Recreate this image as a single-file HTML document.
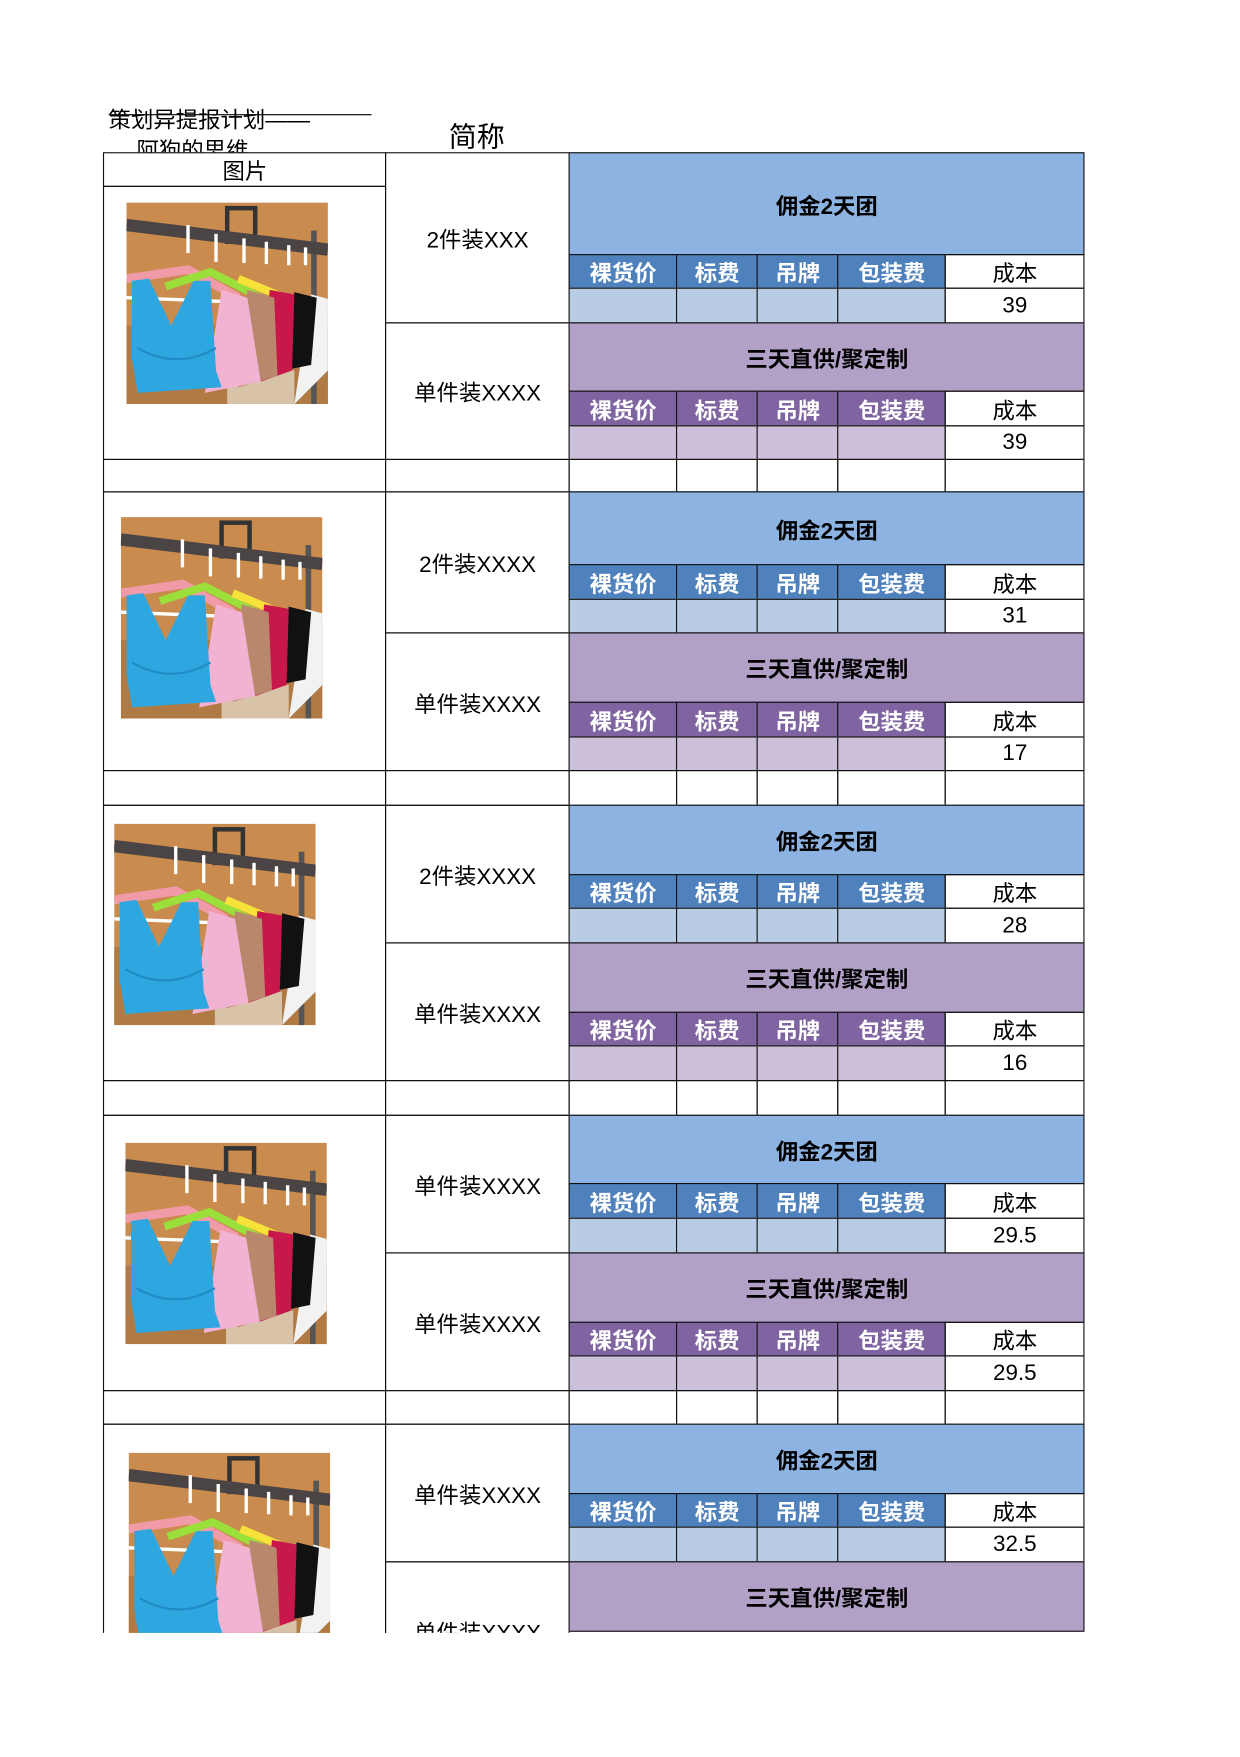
<!DOCTYPE html>
<html><head><meta charset="utf-8"><style>
html,body{margin:0;padding:0;background:#fff;}
body{width:1240px;height:1754px;overflow:hidden;position:relative;font-family:"Liberation Sans","Noto Sans CJK SC",sans-serif;}
#w{position:absolute;left:0;top:0;width:1100px;height:1570px;transform:scale(1.1192);transform-origin:0 0;}
#clip{position:absolute;left:0;top:0;width:1100px;height:1459px;overflow:hidden;}
.c{position:absolute;box-sizing:border-box;border:1.5px solid #111;display:flex;align-items:center;justify-content:center;font-size:20px;color:#000;margin:-0.75px 0 0 -0.75px;white-space:nowrap;}
.B{background:#8DB3E2;font-weight:bold;}
.Bs{background:#4F81BD;color:#fff;font-weight:bold;}
.Bv{background:#B8CCE4;}
.P{background:#B2A1C7;font-weight:bold;}
.Ps{background:#8064A2;color:#fff;font-weight:bold;}
.Pv{background:#CCC0DA;}
.im{position:absolute;width:180px;height:180px;}
.t{position:absolute;font-size:21px;white-space:nowrap;}
</style></head><body>
<svg width="0" height="0" style="position:absolute">
<defs>
<symbol id="ph" viewBox="0 0 180 180">
<rect width="180" height="180" fill="#c98b4e"/>
<rect x="0" y="110" width="180" height="70" fill="#b07a45"/>
<rect x="90" y="150" width="60" height="30" fill="#d8c3a8"/>
<rect x="165" y="25" width="5" height="155" fill="#555"/>
<rect x="90" y="5" width="25" height="30" fill="none" stroke="#333" stroke-width="4"/>
<line x1="0" y1="20" x2="180" y2="42" stroke="#4a4444" stroke-width="11"/>
<g stroke="#fff" stroke-width="3" fill="none">
<path d="M55 20 v25 M80 28 v25 M105 32 v22 M125 35 v20 M145 38 v18 M160 40 v16"/>
<line x1="0" y1="85" x2="180" y2="92"/>
</g>
<path d="M0 68 L55 60 L100 85" stroke="#f19aa8" stroke-width="8" fill="none"/>
<path d="M35 75 L75 62 L130 90" stroke="#9be03a" stroke-width="7" fill="none"/>
<path d="M100 68 L165 95" stroke="#f7e23a" stroke-width="7" fill="none"/>
<path d="M150 180 L165 82 L180 86 L180 150 Z" fill="#f2f2f2"/>
<path d="M140 150 L150 80 L170 85 L165 145 Z" fill="#111"/>
<path d="M120 160 L128 78 L150 82 L148 150 Z" fill="#c8174a"/>
<path d="M100 165 L108 78 L132 85 L135 155 Z" fill="#b9876c"/>
<path d="M70 170 L85 78 L108 85 L120 160 Z" fill="#f2b3d3"/>
<path d="M5 70 L20 68 L40 110 L60 70 L75 70 L80 150 L85 165 L10 170 L5 140 Z" fill="#2ea7e0"/>
<path d="M10 130 Q45 150 80 130" stroke="#1f8cc4" stroke-width="2" fill="none"/>
</symbol>
</defs></svg>
<div id="w">
<div class="t" style="left:97px;top:91px;font-size:20px;">策划异提报计划——</div>
<div style="position:absolute;left:97px;top:102px;width:235px;border-top:1.5px solid #000;"></div>
<div class="t" style="left:122px;top:118px;font-size:20px;height:18px;overflow:hidden;">阿狗的思维</div>
<div class="t" style="left:401px;top:103px;font-size:25px;">简称</div>
<div id="clip">
<div class="c" style="left:93px;top:137px;width:253px;height:31px;">图片</div>
<div class="c" style="left:93px;top:167px;width:253px;height:245px;"></div>
<div class="c" style="left:93px;top:411px;width:253px;height:30px;"></div>
<div class="c" style="left:93px;top:440px;width:253px;height:250px;"></div>
<div class="c" style="left:93px;top:689px;width:253px;height:32px;"></div>
<div class="c" style="left:93px;top:720px;width:253px;height:247px;"></div>
<div class="c" style="left:93px;top:966px;width:253px;height:32px;"></div>
<div class="c" style="left:93px;top:997px;width:253px;height:247px;"></div>
<div class="c" style="left:93px;top:1243px;width:253px;height:31px;"></div>
<div class="c" style="left:93px;top:1273px;width:253px;height:300px;"></div>
<svg class="im" style="left:113px;top:181px"><use href="#ph"/></svg>
<svg class="im" style="left:108px;top:462px"><use href="#ph"/></svg>
<svg class="im" style="left:102px;top:736px"><use href="#ph"/></svg>
<svg class="im" style="left:112px;top:1021px"><use href="#ph"/></svg>
<svg class="im" style="left:115px;top:1298px"><use href="#ph"/></svg>
<div class="c" style="left:345px;top:137px;width:165px;height:153px;">2件装XXX</div>
<div class="c" style="left:345px;top:289px;width:165px;height:123px;">单件装XXXX</div>
<div class="c" style="left:345px;top:411px;width:165px;height:30px;"></div>
<div class="c" style="left:345px;top:440px;width:165px;height:127px;">2件装XXXX</div>
<div class="c" style="left:345px;top:566px;width:165px;height:124px;">单件装XXXX</div>
<div class="c" style="left:345px;top:689px;width:165px;height:32px;"></div>
<div class="c" style="left:345px;top:720px;width:165px;height:124px;">2件装XXXX</div>
<div class="c" style="left:345px;top:843px;width:165px;height:124px;">单件装XXXX</div>
<div class="c" style="left:345px;top:966px;width:165px;height:32px;"></div>
<div class="c" style="left:345px;top:997px;width:165px;height:124px;">单件装XXXX</div>
<div class="c" style="left:345px;top:1120px;width:165px;height:124px;">单件装XXXX</div>
<div class="c" style="left:345px;top:1243px;width:165px;height:31px;"></div>
<div class="c" style="left:345px;top:1273px;width:165px;height:124px;">单件装XXXX</div>
<div class="c" style="left:345px;top:1396px;width:165px;height:124px;">单件装XXXX</div>

<div class="c B" style="left:509px;top:137px;width:461px;height:92px;">佣金2天团</div>
<div class="c Bs" style="left:509px;top:228px;width:97px;height:31px;">裸货价</div>
<div class="c Bs" style="left:605px;top:228px;width:73px;height:31px;">标费</div>
<div class="c Bs" style="left:677px;top:228px;width:73px;height:31px;">吊牌</div>
<div class="c Bs" style="left:749px;top:228px;width:97px;height:31px;">包装费</div>
<div class="c" style="left:845px;top:228px;width:125px;height:31px;">成本</div>
<div class="c Bv" style="left:509px;top:258px;width:97px;height:32px;"></div>
<div class="c Bv" style="left:605px;top:258px;width:73px;height:32px;"></div>
<div class="c Bv" style="left:677px;top:258px;width:73px;height:32px;"></div>
<div class="c Bv" style="left:749px;top:258px;width:97px;height:32px;"></div>
<div class="c" style="left:845px;top:258px;width:125px;height:32px;">39</div>
<div class="c P" style="left:509px;top:289px;width:461px;height:62px;">三天直供/聚定制</div>
<div class="c Ps" style="left:509px;top:350px;width:97px;height:32px;">裸货价</div>
<div class="c Ps" style="left:605px;top:350px;width:73px;height:32px;">标费</div>
<div class="c Ps" style="left:677px;top:350px;width:73px;height:32px;">吊牌</div>
<div class="c Ps" style="left:749px;top:350px;width:97px;height:32px;">包装费</div>
<div class="c" style="left:845px;top:350px;width:125px;height:32px;">成本</div>
<div class="c Pv" style="left:509px;top:381px;width:97px;height:31px;"></div>
<div class="c Pv" style="left:605px;top:381px;width:73px;height:31px;"></div>
<div class="c Pv" style="left:677px;top:381px;width:73px;height:31px;"></div>
<div class="c Pv" style="left:749px;top:381px;width:97px;height:31px;"></div>
<div class="c" style="left:845px;top:381px;width:125px;height:31px;">39</div>
<div class="c" style="left:509px;top:411px;width:97px;height:30px;"></div>
<div class="c" style="left:605px;top:411px;width:73px;height:30px;"></div>
<div class="c" style="left:677px;top:411px;width:73px;height:30px;"></div>
<div class="c" style="left:749px;top:411px;width:97px;height:30px;"></div>
<div class="c" style="left:845px;top:411px;width:125px;height:30px;"></div>

<div class="c B" style="left:509px;top:440px;width:461px;height:66px;">佣金2天团</div>
<div class="c Bs" style="left:509px;top:505px;width:97px;height:32px;">裸货价</div>
<div class="c Bs" style="left:605px;top:505px;width:73px;height:32px;">标费</div>
<div class="c Bs" style="left:677px;top:505px;width:73px;height:32px;">吊牌</div>
<div class="c Bs" style="left:749px;top:505px;width:97px;height:32px;">包装费</div>
<div class="c" style="left:845px;top:505px;width:125px;height:32px;">成本</div>
<div class="c Bv" style="left:509px;top:536px;width:97px;height:31px;"></div>
<div class="c Bv" style="left:605px;top:536px;width:73px;height:31px;"></div>
<div class="c Bv" style="left:677px;top:536px;width:73px;height:31px;"></div>
<div class="c Bv" style="left:749px;top:536px;width:97px;height:31px;"></div>
<div class="c" style="left:845px;top:536px;width:125px;height:31px;">31</div>
<div class="c P" style="left:509px;top:566px;width:461px;height:63px;">三天直供/聚定制</div>
<div class="c Ps" style="left:509px;top:628px;width:97px;height:32px;">裸货价</div>
<div class="c Ps" style="left:605px;top:628px;width:73px;height:32px;">标费</div>
<div class="c Ps" style="left:677px;top:628px;width:73px;height:32px;">吊牌</div>
<div class="c Ps" style="left:749px;top:628px;width:97px;height:32px;">包装费</div>
<div class="c" style="left:845px;top:628px;width:125px;height:32px;">成本</div>
<div class="c Pv" style="left:509px;top:659px;width:97px;height:31px;"></div>
<div class="c Pv" style="left:605px;top:659px;width:73px;height:31px;"></div>
<div class="c Pv" style="left:677px;top:659px;width:73px;height:31px;"></div>
<div class="c Pv" style="left:749px;top:659px;width:97px;height:31px;"></div>
<div class="c" style="left:845px;top:659px;width:125px;height:31px;">17</div>
<div class="c" style="left:509px;top:689px;width:97px;height:32px;"></div>
<div class="c" style="left:605px;top:689px;width:73px;height:32px;"></div>
<div class="c" style="left:677px;top:689px;width:73px;height:32px;"></div>
<div class="c" style="left:749px;top:689px;width:97px;height:32px;"></div>
<div class="c" style="left:845px;top:689px;width:125px;height:32px;"></div>

<div class="c B" style="left:509px;top:720px;width:461px;height:63px;">佣金2天团</div>
<div class="c Bs" style="left:509px;top:782px;width:97px;height:31px;">裸货价</div>
<div class="c Bs" style="left:605px;top:782px;width:73px;height:31px;">标费</div>
<div class="c Bs" style="left:677px;top:782px;width:73px;height:31px;">吊牌</div>
<div class="c Bs" style="left:749px;top:782px;width:97px;height:31px;">包装费</div>
<div class="c" style="left:845px;top:782px;width:125px;height:31px;">成本</div>
<div class="c Bv" style="left:509px;top:812px;width:97px;height:32px;"></div>
<div class="c Bv" style="left:605px;top:812px;width:73px;height:32px;"></div>
<div class="c Bv" style="left:677px;top:812px;width:73px;height:32px;"></div>
<div class="c Bv" style="left:749px;top:812px;width:97px;height:32px;"></div>
<div class="c" style="left:845px;top:812px;width:125px;height:32px;">28</div>
<div class="c P" style="left:509px;top:843px;width:461px;height:63px;">三天直供/聚定制</div>
<div class="c Ps" style="left:509px;top:905px;width:97px;height:31px;">裸货价</div>
<div class="c Ps" style="left:605px;top:905px;width:73px;height:31px;">标费</div>
<div class="c Ps" style="left:677px;top:905px;width:73px;height:31px;">吊牌</div>
<div class="c Ps" style="left:749px;top:905px;width:97px;height:31px;">包装费</div>
<div class="c" style="left:845px;top:905px;width:125px;height:31px;">成本</div>
<div class="c Pv" style="left:509px;top:935px;width:97px;height:32px;"></div>
<div class="c Pv" style="left:605px;top:935px;width:73px;height:32px;"></div>
<div class="c Pv" style="left:677px;top:935px;width:73px;height:32px;"></div>
<div class="c Pv" style="left:749px;top:935px;width:97px;height:32px;"></div>
<div class="c" style="left:845px;top:935px;width:125px;height:32px;">16</div>
<div class="c" style="left:509px;top:966px;width:97px;height:32px;"></div>
<div class="c" style="left:605px;top:966px;width:73px;height:32px;"></div>
<div class="c" style="left:677px;top:966px;width:73px;height:32px;"></div>
<div class="c" style="left:749px;top:966px;width:97px;height:32px;"></div>
<div class="c" style="left:845px;top:966px;width:125px;height:32px;"></div>

<div class="c B" style="left:509px;top:997px;width:461px;height:62px;">佣金2天团</div>
<div class="c Bs" style="left:509px;top:1058px;width:97px;height:32px;">裸货价</div>
<div class="c Bs" style="left:605px;top:1058px;width:73px;height:32px;">标费</div>
<div class="c Bs" style="left:677px;top:1058px;width:73px;height:32px;">吊牌</div>
<div class="c Bs" style="left:749px;top:1058px;width:97px;height:32px;">包装费</div>
<div class="c" style="left:845px;top:1058px;width:125px;height:32px;">成本</div>
<div class="c Bv" style="left:509px;top:1089px;width:97px;height:32px;"></div>
<div class="c Bv" style="left:605px;top:1089px;width:73px;height:32px;"></div>
<div class="c Bv" style="left:677px;top:1089px;width:73px;height:32px;"></div>
<div class="c Bv" style="left:749px;top:1089px;width:97px;height:32px;"></div>
<div class="c" style="left:845px;top:1089px;width:125px;height:32px;">29.5</div>
<div class="c P" style="left:509px;top:1120px;width:461px;height:63px;">三天直供/聚定制</div>
<div class="c Ps" style="left:509px;top:1182px;width:97px;height:31px;">裸货价</div>
<div class="c Ps" style="left:605px;top:1182px;width:73px;height:31px;">标费</div>
<div class="c Ps" style="left:677px;top:1182px;width:73px;height:31px;">吊牌</div>
<div class="c Ps" style="left:749px;top:1182px;width:97px;height:31px;">包装费</div>
<div class="c" style="left:845px;top:1182px;width:125px;height:31px;">成本</div>
<div class="c Pv" style="left:509px;top:1212px;width:97px;height:32px;"></div>
<div class="c Pv" style="left:605px;top:1212px;width:73px;height:32px;"></div>
<div class="c Pv" style="left:677px;top:1212px;width:73px;height:32px;"></div>
<div class="c Pv" style="left:749px;top:1212px;width:97px;height:32px;"></div>
<div class="c" style="left:845px;top:1212px;width:125px;height:32px;">29.5</div>
<div class="c" style="left:509px;top:1243px;width:97px;height:31px;"></div>
<div class="c" style="left:605px;top:1243px;width:73px;height:31px;"></div>
<div class="c" style="left:677px;top:1243px;width:73px;height:31px;"></div>
<div class="c" style="left:749px;top:1243px;width:97px;height:31px;"></div>
<div class="c" style="left:845px;top:1243px;width:125px;height:31px;"></div>

<div class="c B" style="left:509px;top:1273px;width:461px;height:63px;">佣金2天团</div>
<div class="c Bs" style="left:509px;top:1335px;width:97px;height:31px;">裸货价</div>
<div class="c Bs" style="left:605px;top:1335px;width:73px;height:31px;">标费</div>
<div class="c Bs" style="left:677px;top:1335px;width:73px;height:31px;">吊牌</div>
<div class="c Bs" style="left:749px;top:1335px;width:97px;height:31px;">包装费</div>
<div class="c" style="left:845px;top:1335px;width:125px;height:31px;">成本</div>
<div class="c Bv" style="left:509px;top:1365px;width:97px;height:32px;"></div>
<div class="c Bv" style="left:605px;top:1365px;width:73px;height:32px;"></div>
<div class="c Bv" style="left:677px;top:1365px;width:73px;height:32px;"></div>
<div class="c Bv" style="left:749px;top:1365px;width:97px;height:32px;"></div>
<div class="c" style="left:845px;top:1365px;width:125px;height:32px;">32.5</div>
<div class="c P" style="left:509px;top:1396px;width:461px;height:63px;">三天直供/聚定制</div>
</div>
</div>
</body></html>
